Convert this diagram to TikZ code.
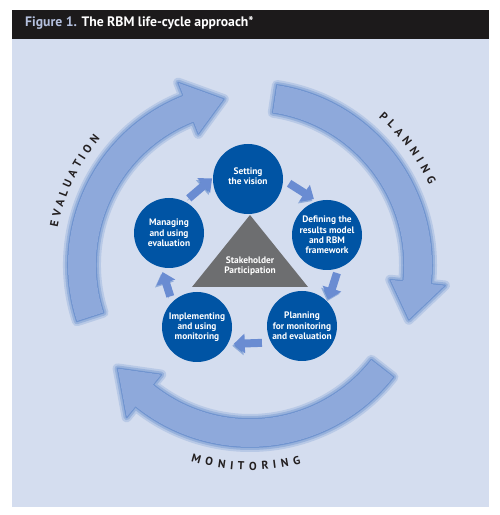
\documentclass[tikz,border=0pt]{standalone}
\usepackage{fontspec}
\setmainfont{PT Sans}
\usetikzlibrary{arrows.meta,calc}
\definecolor{bgblue}{HTML}{D4DDEF}
\definecolor{titleblack}{HTML}{1C1A1B}
\definecolor{figgray}{HTML}{B4C0DE}
\definecolor{band}{HTML}{8EA9DB}
\definecolor{shadowblue}{HTML}{2A62BA}
\definecolor{circblue}{HTML}{0054A4}
\definecolor{trigray}{HTML}{6D6E70}
\definecolor{smallblue}{HTML}{6A8CD2}
\definecolor{labelblack}{HTML}{231F20}
\newcommand\rbmarc[3]{(C) ++(#1:182pt) arc[start angle=#1, end angle=#2, radius=182pt] -- ($(C)+(#2:196pt)$) -- ($(C)+(#3:168pt)$) -- ($(C)+(#2:141pt)$) -- ($(C)+(#2:154pt)$) arc[start angle=#2, end angle=#1, radius=154pt] -- cycle}
\begin{document}
\begin{tikzpicture}[x=1pt,y=1pt,
  stage/.style={circle, fill=circblue, minimum size=70pt, inner sep=0pt},
  ctext/.style={text=white, font=\bfseries\fontsize{9.4}{10.3}\selectfont, align=center, inner sep=0pt},
  sarrow/.style={line width=8pt, draw=smallblue, -{Triangle[length=11pt,width=19pt]},
    preaction={draw=shadowblue, opacity=0.4, transform canvas={shift={(-1.5pt,-2pt)}}}},
  bigshadow/.style={draw=shadowblue, fill=shadowblue, line join=round},
  bigband/.style={fill=band},
  letter/.style={inner sep=0pt, text=labelblack, font=\bfseries\fontsize{11.5}{13}\selectfont}
]
\useasboundingbox (0,0) rectangle (500,515);
\fill[white] (0,0) rectangle (500,515);
\fill[bgblue] (12,8) rectangle (489,476);
\fill[titleblack] (12,476) rectangle (489,505);
\node[anchor=base west, inner sep=0pt, font=\bfseries\fontsize{13.7}{15}\selectfont] (title) at (25,488)
  {\textcolor{figgray}{Figure 1.} \textcolor{white}{The RBM life-cycle approach*}};

\coordinate (C) at (250,250);

% big cycle arrows: shadows then bands
\foreach \a/\b/\c in {198/111.5/99, 81.5/-6/-19, -38/-129/-142}{
  \foreach \w/\o in {10/0.16, 6/0.22, 2/0.32}{
    \filldraw[bigshadow, opacity=\o, line width=\w pt, shift={(-3pt,-4pt)}] \rbmarc{\a}{\b}{\c};
  }
  \fill[bigband] \rbmarc{\a}{\b}{\c};
}

% phase labels
\foreach \ch/\ang in {E/168, V/164.99, A/161.90, L/158.96, U/155.90, A/152.67, T/149.69, I/147.23, O/144.44, N/140.97}{
  \node[letter, rotate=\ang-90] at ($(C)+(\ang:200pt)$) {\ch};
}
\foreach \ch/\ang in {P/48, L/44.88, A/41.71, N/38.23, N/34.59, I/31.63, N/28.66, G/25.05}{
  \node[letter, rotate=\ang-90] at ($(C)+(\ang:200pt)$) {\ch};
}
\foreach \ch/\ang in {M/254.5, O/258.32, N/261.94, I/264.84, T/267.46, O/270.81, R/274.27, I/277.01, N/279.90, G/283.44}{
  \node[letter, rotate=\ang+90] at ($(C)+(\ang:201pt)$) {\ch};
}

% stakeholder triangle
\fill[trigray] (192,228) -- (250,300) -- (308,228) -- cycle;
\node[ctext] (stake) at (250,249) {Stakeholder\\Participation};

% stages
\node[stage] (setting) at (248,336) {};
\node[stage] (defining) at (327,280) {};
\node[stage] (planning) at (302,189) {};
\node[stage] (implementing) at (197,188) {};
\node[stage] (managing) at (169,282) {};
\node[ctext] at ($(setting)+(0,3)$) {Setting\\the vision};
\node[ctext] at (defining) {Defining the\\results model\\and RBM\\framework};
\node[ctext] at (planning) {Planning\\for monitoring\\and evaluation};
\node[ctext] at (implementing) {Implementing\\and using\\monitoring};
\node[ctext] at (managing) {Managing\\and using\\evaluation};

% small arrows
\draw[sarrow, shorten <=5pt, shorten >=1pt] (managing.63) -- (setting.178);
\draw[sarrow, shorten <=7pt, shorten >=4pt] (setting.-1) -- (defining.106);
\draw[sarrow, shorten <=5pt, shorten >=3pt] (defining.-71) -- (planning.43);
\draw[sarrow, shorten <=9pt, shorten >=6pt] (planning.208) -- (implementing.-29);
\draw[sarrow, shorten <=6pt, shorten >=5pt] (implementing.135) -- (managing.257);
\end{tikzpicture}
\end{document}
